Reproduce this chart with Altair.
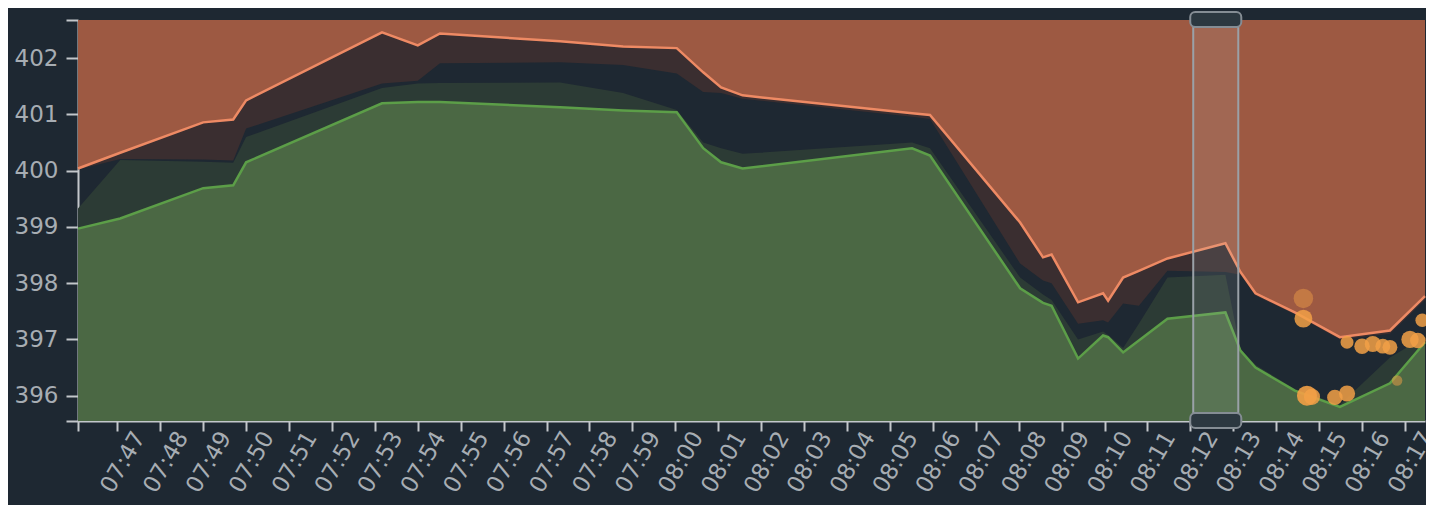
import altair as alt
import pandas as pd

# ---- data ----
times = ["07:46:05", "07:47:04", "07:49:00", "07:49:42", "07:50:00", "07:53:10",
         "07:54:00", "07:54:31", "07:57:19", "07:58:47", "08:00:02", "08:00:39",
         "08:01:04", "08:01:34", "08:05:31", "08:05:56", "08:08:02", "08:08:34",
         "08:08:46", "08:09:23", "08:09:58", "08:10:05", "08:10:26", "08:10:48",
         "08:11:28", "08:12:49", "08:13:10", "08:13:31", "08:14:26", "08:15:29",
         "08:16:39", "08:17:28"]
ask = [400.04, 400.32, 400.86, 400.91, 401.25, 402.46,
       402.23, 402.44, 402.30, 402.21, 402.18, 401.75,
       401.48, 401.34, 401.02, 400.99, 399.08, 398.46,
       398.51, 397.66, 397.82, 397.69, 398.10, 398.22,
       398.44, 398.71, 398.20, 397.82, 397.48, 397.04,
       397.16, 397.77]
ask2 = [400.02, 400.21, 400.20, 400.18, 400.75, 401.55,
        401.60, 401.91, 401.93, 401.88, 401.73, 401.40,
        401.38, 401.28, 400.96, 400.92, 398.35, 398.05,
        398.00, 397.28, 397.34, 397.30, 397.64, 397.60,
        398.22, 398.20, 398.15, 397.78, 397.45, 397.00,
        397.10, 397.70]
bid2 = [399.33, 400.19, 400.16, 400.14, 400.60, 401.47,
        401.55, 401.56, 401.57, 401.38, 401.08, 400.50,
        400.40, 400.30, 400.50, 400.40, 398.10, 397.80,
        397.70, 397.00, 397.14, 397.08, 396.85, 397.28,
        398.10, 398.15, 396.83, 396.55, 396.12, 395.84,
        396.68, 397.05]
bid = [398.97, 399.15, 399.69, 399.74, 400.15, 401.20,
       401.22, 401.22, 401.13, 401.07, 401.04, 400.40,
       400.15, 400.04, 400.40, 400.27, 397.91, 397.65,
       397.60, 396.66, 397.07, 397.04, 396.77, 396.98,
       397.37, 397.48, 396.80, 396.50, 396.09, 395.80,
       396.22, 396.95]

trade_times = ["08:14:38", "08:14:38", "08:14:43", "08:14:50", "08:15:22", "08:15:39",
               "08:15:39", "08:16:00", "08:16:15", "08:16:29", "08:16:39", "08:16:49",
               "08:17:07", "08:17:18", "08:17:24"]
trade_price = [397.73, 397.37, 396.00, 395.98, 395.97, 396.04,
               396.95, 396.88, 396.92, 396.88, 396.86, 396.27,
               397.00, 396.98, 397.34]
trade_size = [380, 320, 400, 260, 240, 260, 170, 240, 260, 220, 220, 110, 300, 240, 180]
trade_alpha = [0.45, 0.85, 0.9, 0.85, 0.85, 0.85, 0.85, 0.85, 0.85, 0.85, 0.85, 0.5, 0.85, 0.85, 0.85]

brush_start, brush_end = "08:12:04", "08:13:07"
x_start, x_end = "07:46:05", "08:17:28"
tick_minutes = [f"{h:02d}:{m:02d}" for h, m in
                [(7, mm) for mm in range(47, 60)] + [(8, mm) for mm in range(0, 18)]]
y_domain = [395.55, 402.68]
y_ticks = [395.55, 396, 397, 398, 399, 400, 401, 402, 402.68]

DAY = "2024-01-02T"


def iso(t):
    return DAY + t + "Z"


def ms(t):
    return int(pd.Timestamp(iso(t)).value // 10**6)


df = pd.DataFrame({"t": [iso(t) for t in times], "ask": ask, "ask2": ask2,
                   "bid2": bid2, "bid": bid})
trades = pd.DataFrame({"t": [iso(t) for t in trade_times], "price": trade_price,
                       "size": trade_size, "alpha": trade_alpha})
brush = pd.DataFrame({"t": [iso(brush_start)], "t2": [iso(brush_end)]})

BG = "#1e2832"
x_vals = [ms(x_start)] + [ms(t) for t in tick_minutes]
first_tick = ms(tick_minutes[0])

xscale = alt.Scale(type="utc", domain=[ms(x_start), ms(x_end)])
yscale = alt.Scale(domain=y_domain, nice=False, zero=False)

x_axis = alt.Axis(values=x_vals, labelExpr=f"datum.value < {first_tick} ? '' : utcFormat(datum.value, '%H:%M')",
                  labelAngle=300, labelAlign="right", labelBaseline="middle", labelOffset=22,
                  labelPadding=2, tickSize=10, labelOverlap=False, labelFlush=False,
                  labelFontSize=23, grid=False, title=None)
y_axis = alt.Axis(values=y_ticks, labelExpr="datum.value % 1 == 0 ? datum.value : ''",
                  tickSize=12, labelPadding=8, labelFontSize=23, grid=False, title=None,
                  labelOverlap=False)


def X():
    return alt.X("t:T", scale=xscale, axis=x_axis)


def Y(field):
    return alt.Y(field, scale=yscale, axis=y_axis)


base = alt.Chart(df)

ask_area = base.mark_area(color="#9d5942", opacity=1).encode(
    x=X(), y=Y("ask:Q"), y2=alt.datum(y_domain[1]))
brown = base.mark_area(color="#3a2e30").encode(
    x=X(), y=Y("ask:Q"), y2="ask2:Q")
dkgreen = base.mark_area(color="#2c3b35").encode(
    x=X(), y=Y("bid2:Q"), y2="bid:Q")
bid_area = base.mark_area(color="#4b6844").encode(
    x=X(), y=Y("bid:Q"), y2=alt.datum(y_domain[0]))
ask_line = base.mark_line(color="#ee8a64", strokeWidth=2.5).encode(
    x=X(), y=Y("ask:Q"))
bid_line = base.mark_line(color="#5c9e48", strokeWidth=2.5).encode(
    x=X(), y=Y("bid:Q"))

dots = alt.Chart(trades).mark_circle(color="#f2a046").encode(
    x=X(), y=Y("price:Q"),
    size=alt.Size("size:Q", scale=None, legend=None),
    opacity=alt.Opacity("alpha:Q", scale=None, legend=None))

brush_rect = alt.Chart(brush).mark_rect(fill="#c8ccd0", fillOpacity=0.12, stroke="#9aa1a8",
                                        strokeWidth=2).encode(
    x=X(), x2="t2:T", y=alt.value(7), y2=alt.value(393))
handle_top = alt.Chart(brush).mark_rect(fill="#2c3840", stroke="#858d94", strokeWidth=2,
                                        cornerRadius=5, xOffset=-3, x2Offset=3).encode(
    x=X(), x2="t2:T", y=alt.value(-8), y2=alt.value(7))
handle_bot = alt.Chart(brush).mark_rect(fill="#2c3840", stroke="#858d94", strokeWidth=2,
                                        cornerRadius=5, xOffset=-3, x2Offset=3).encode(
    x=X(), x2="t2:T", y=alt.value(393), y2=alt.value(408))

chart = alt.layer(ask_area, brown, dkgreen, bid_area, ask_line, bid_line, dots,
                  brush_rect, handle_top, handle_bot).properties(
    width=1347, height=401,
    padding={"left": 70, "top": 12, "right": 1, "bottom": 84},
    autosize=alt.AutoSizeParams(type="none"),
    background=BG,
).configure_view(stroke=None, fill=BG, clip=False).configure_axis(
    domainColor="#c3c7cb", domainWidth=2, tickColor="#c3c7cb", tickWidth=2,
    labelColor="#a7adb3", labelFont="DejaVu Sans", labelFontSize=22,
)

chart.save("out.html", embed_options={"renderer": "svg", "actions": False})
